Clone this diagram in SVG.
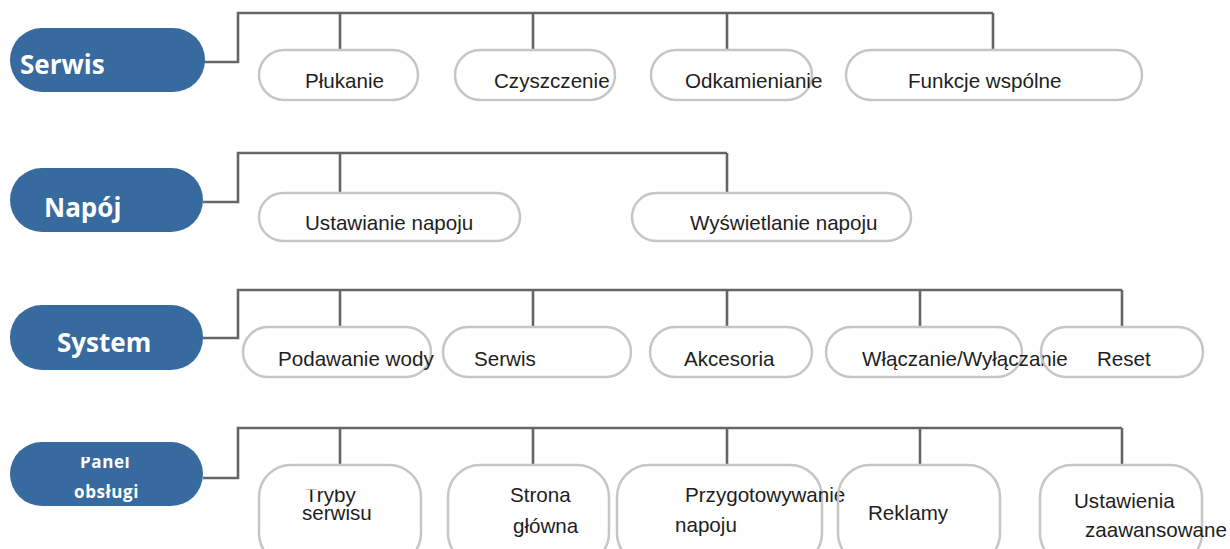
<svg xmlns="http://www.w3.org/2000/svg" width="1230" height="549" viewBox="0 0 1230 549">
  <style>
    .root { fill: #376a9e; }
    .root-label { fill: #ffffff; font-family: "Open Sans", "Noto Sans", sans-serif; font-weight: bold; font-size: 26px; }
    .root-small { fill: #ffffff; font-family: "Open Sans", "Noto Sans", sans-serif; font-weight: bold; font-size: 17px; letter-spacing: 0.6px; }
    .leaf { fill: none; stroke: #c6c6c6; stroke-width: 2.5; }
    .leaf-label { fill: #1e1e1e; font-family: "Liberation Sans", Arial, sans-serif; font-size: 20.6px; }
    .wire { fill: none; stroke: #666666; stroke-width: 2.6; stroke-linejoin: miter; }
  </style>
  <defs>
    <clipPath id="clip-panel"><rect x="0" y="457" width="230" height="60"/></clipPath>
    <clipPath id="clip-tryby"><rect x="280" y="489.5" width="100" height="40"/></clipPath>
    <clipPath id="clip-strona"><rect x="490" y="488" width="100" height="40"/></clipPath>
    <clipPath id="clip-przyg"><rect x="660" y="487" width="200" height="40"/></clipPath>
  </defs>
  <rect width="1230" height="549" fill="#ffffff"/>

  <!-- connectors -->
  <g id="connectors" class="wire">
    <path d="M203 62 H238 V13 H993 M340 13 V50 M533 13 V50 M727 13 V50 M993 13 V50"/>
    <path d="M203 202 H238 V153 H727 M340 153 V193 M727 153 V193"/>
    <path d="M203 338 H238 V290 H1122 M340 290 V327 M533 290 V327 M727 290 V327 M920 290 V327 M1122 290 V327"/>
    <path d="M203 478 H238 V428 H1122 M340 428 V465 M533 428 V465 M727 428 V465 M920 428 V465 M1122 428 V465"/>
  </g>

  <!-- row 1 -->
  <g id="serwis">
    <rect class="root" x="10" y="28" width="195" height="64" rx="32"/>
    <text class="root-label" x="20" y="74">Serwis</text>
  </g>
  <g id="plukanie">
    <rect class="leaf" x="259" y="50" width="159" height="50" rx="25"/>
    <text class="leaf-label" x="305" y="88">Płukanie</text>
  </g>
  <g id="czyszczenie">
    <rect class="leaf" x="455" y="50" width="160" height="50" rx="25"/>
    <text class="leaf-label" x="494" y="88">Czyszczenie</text>
  </g>
  <g id="odkamienianie">
    <rect class="leaf" x="651" y="50" width="161" height="50" rx="25"/>
    <text class="leaf-label" x="685" y="88">Odkamienianie</text>
  </g>
  <g id="funkcje-wspolne">
    <rect class="leaf" x="846" y="50" width="296" height="50" rx="25"/>
    <text class="leaf-label" x="908" y="88">Funkcje wspólne</text>
  </g>

  <!-- row 2 -->
  <g id="napoj">
    <rect class="root" x="10" y="168" width="193" height="64" rx="32"/>
    <text class="root-label" x="44" y="217">Napój</text>
  </g>
  <g id="ustawianie-napoju">
    <rect class="leaf" x="259" y="193" width="261" height="48" rx="24"/>
    <text class="leaf-label" x="305" y="230">Ustawianie napoju</text>
  </g>
  <g id="wyswietlanie-napoju">
    <rect class="leaf" x="632" y="193" width="279" height="48" rx="24"/>
    <text class="leaf-label" x="690" y="230">Wyświetlanie napoju</text>
  </g>

  <!-- row 3 -->
  <g id="system">
    <rect class="root" x="10" y="305" width="193" height="65" rx="32"/>
    <text class="root-label" x="57" y="352">System</text>
  </g>
  <g id="podawanie-wody">
    <rect class="leaf" x="243" y="327" width="188" height="50" rx="25"/>
    <text class="leaf-label" x="278" y="366">Podawanie wody</text>
  </g>
  <g id="serwis-system">
    <rect class="leaf" x="443" y="327" width="188" height="50" rx="25"/>
    <text class="leaf-label" x="474" y="366">Serwis</text>
  </g>
  <g id="akcesoria">
    <rect class="leaf" x="650" y="327" width="162" height="50" rx="25"/>
    <text class="leaf-label" x="684" y="366">Akcesoria</text>
  </g>
  <g id="wlaczanie">
    <rect class="leaf" x="826" y="327" width="196" height="50" rx="25"/>
    <text class="leaf-label" x="862" y="366">Włączanie/Wyłączanie</text>
  </g>
  <g id="reset">
    <rect class="leaf" x="1041" y="327" width="162" height="50" rx="25"/>
    <text class="leaf-label" x="1097" y="366">Reset</text>
  </g>

  <!-- row 4 -->
  <g id="panel-obslugi">
    <rect class="root" x="10" y="442" width="193" height="64" rx="32"/>
    <text class="root-small" x="80" y="468" clip-path="url(#clip-panel)">Panel</text>
    <text class="root-small" x="74" y="498">obsługi</text>
  </g>
  <g id="tryby-serwisu">
    <rect class="leaf" x="259" y="465" width="162" height="100" rx="32"/>
    <text class="leaf-label" x="305" y="502" clip-path="url(#clip-tryby)">Tryby</text>
    <text class="leaf-label" x="302" y="520">serwisu</text>
  </g>
  <g id="strona-glowna">
    <rect class="leaf" x="448" y="465" width="161" height="100" rx="32"/>
    <text class="leaf-label" x="510" y="502" clip-path="url(#clip-strona)">Strona</text>
    <text class="leaf-label" x="513" y="533">główna</text>
  </g>
  <g id="przygotowywanie-napoju">
    <rect class="leaf" x="617" y="465" width="205" height="100" rx="32"/>
    <text class="leaf-label" x="685" y="502" clip-path="url(#clip-przyg)">Przygotowywanie</text>
    <text class="leaf-label" x="675" y="532">napoju</text>
  </g>
  <g id="reklamy">
    <rect class="leaf" x="838" y="465" width="162" height="100" rx="32"/>
    <text class="leaf-label" x="868" y="520">Reklamy</text>
  </g>
  <g id="ustawienia-zaawansowane">
    <rect class="leaf" x="1040" y="465" width="162" height="100" rx="32"/>
    <text class="leaf-label" x="1074" y="508">Ustawienia</text>
    <text class="leaf-label" x="1085" y="537">zaawansowane</text>
  </g>
</svg>
